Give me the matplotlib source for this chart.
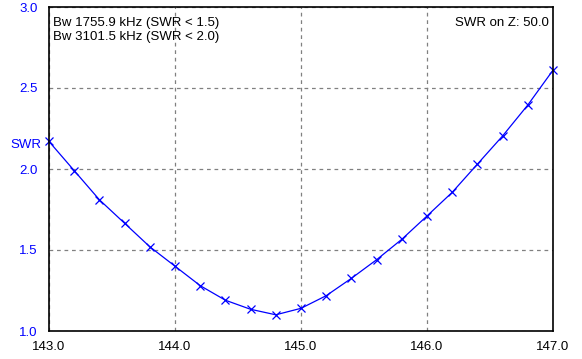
import matplotlib
matplotlib.use("Agg")
import matplotlib.pyplot as plt

plt.rcParams['font.family'] = ['Liberation Sans', 'DejaVu Sans']

# frequency, MHz
freq = [143.0, 143.2, 143.4, 143.6, 143.8, 144.0, 144.2, 144.4, 144.6, 144.8,
        145.0, 145.2, 145.4, 145.6, 145.8, 146.0, 146.2, 146.4, 146.6, 146.8, 147.0]
# SWR readings
swr = [2.17, 1.99, 1.81, 1.665, 1.52, 1.40, 1.28, 1.19, 1.134, 1.10,
       1.14, 1.218, 1.325, 1.44, 1.566, 1.71, 1.856, 2.03, 2.204, 2.395, 2.61]

xticks = [143.0, 144.0, 145.0, 146.0, 147.0]
yticks = [1.0, 1.5, 2.0, 2.5, 3.0]

fig = plt.figure(figsize=(5.82, 3.59), dpi=100)
ax = fig.add_axes([49/582, 28/359, 504/582, 324/359])

ax.plot(freq, swr, color='#0000ff', lw=0.9, marker='x', ms=5.5, mew=0.9, clip_on=False)

ax.set_xlim(143, 147)
ax.set_ylim(1.0, 3.0)
ax.set_xticks(xticks)
ax.set_yticks(yticks)
ax.set_xticklabels([f"{v:.1f}" for v in xticks])
ax.set_yticklabels([f"{v:.1f}" for v in yticks])
ax.tick_params(axis='both', length=0, labelsize=9.5)
ax.tick_params(axis='x', pad=7, colors='black')
ax.tick_params(axis='y', pad=8, labelcolor='#0000ff')
ax.grid(True, color='#808080', ls=(0, (3, 3)), lw=0.9)

for s in ax.spines.values():
    s.set_color('black')
    s.set_linewidth(1.2)

ax.text(0.008, 0.97, "Bw 1755.9 kHz (SWR < 1.5)\nBw 3101.5 kHz (SWR < 2.0)",
        transform=ax.transAxes, ha='left', va='top', fontsize=9.5, linespacing=1.2)
ax.text(0.992, 0.97, "SWR on Z: 50.0", transform=ax.transAxes,
        ha='right', va='top', fontsize=9.5)
fig.text(41/582, 1 - 145/359, "SWR", ha='right', va='center',
         fontsize=9.5, color='#0000ff')

fig.savefig("out.png", dpi=100)
